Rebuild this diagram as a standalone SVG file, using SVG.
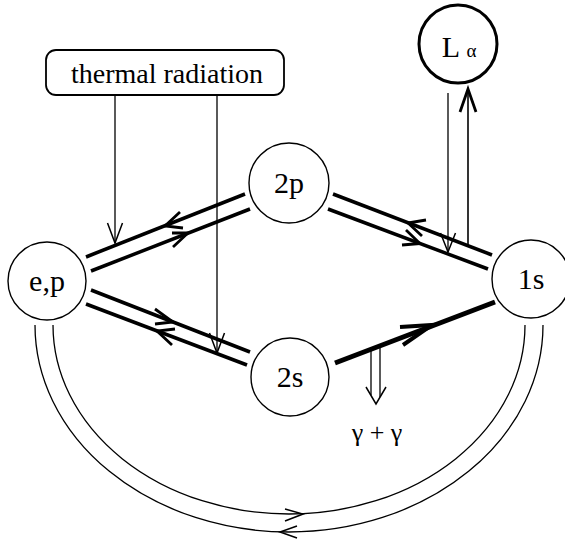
<svg xmlns="http://www.w3.org/2000/svg" width="565" height="541" viewBox="0 0 565 541">
<style>
.node{fill:#fff;stroke:#000;stroke-width:1.4}
.lbl{font-family:"Liberation Serif","Times New Roman",serif;font-size:30px;fill:#000;text-anchor:middle}
.thick{stroke:#000;stroke-width:3.5;fill:none;stroke-linecap:butt}
.thin{stroke:#000;stroke-width:1.3;fill:none}
.ah{stroke:#000;stroke-width:2.8;fill:none;stroke-linejoin:miter}
.ahthin{stroke:#000;stroke-width:1.5;fill:none}
</style>
<rect width="565" height="541" fill="#fff"/>
<g id="connectors">
  <!-- e,p <-> 2p -->
  <line class="thick" x1="86" y1="257" x2="245" y2="194"/>
  <polyline class="ah" points="180,212 165,226 183,228"/>
  <line class="thick" x1="91" y1="271" x2="250" y2="209"/>
  <polyline class="ah" points="172,233 188,233 173,247"/>
  <!-- e,p <-> 2s -->
  <line class="thick" x1="91" y1="290" x2="250" y2="352"/>
  <polyline class="ah" points="155,309 173,322 155,324"/>
  <line class="thick" x1="86" y1="304" x2="247" y2="365"/>
  <polyline class="ah" points="175,329 157,331 172,345"/>
  <!-- 2p <-> 1s -->
  <line class="thick" x1="333" y1="194" x2="492" y2="255"/>
  <polyline class="ah" points="426,220 408,223 422,236"/>
  <line class="thick" x1="328" y1="209" x2="488" y2="269"/>
  <polyline class="ah" points="406,230 420,243.5 402,245"/>
  <!-- 2s -> 1s -->
  <line x1="335" y1="363" x2="495" y2="302" stroke="#000" stroke-width="5"/>
  <polyline points="400,327 432,325 403,345" stroke="#000" stroke-width="4" fill="none"/>
  <!-- thermal radiation lines -->
  <line class="thin" x1="115" y1="95" x2="115" y2="243"/>
  <polyline class="ahthin" points="107.5,223 115,243 122.5,223"/>
  <line class="thin" x1="217" y1="95" x2="217" y2="353"/>
  <polyline class="ahthin" points="209.5,333 217,353 224.5,333"/>
  <!-- L alpha lines -->
  <line class="thin" x1="448" y1="93" x2="448" y2="252"/>
  <polyline class="ahthin" points="440.5,233 448,252 455.5,233"/>
  <line x1="468" y1="90" x2="468" y2="246" stroke="#000" stroke-width="1.6"/>
  <polyline points="460,112 468,89 476,112" stroke="#000" stroke-width="2.8" fill="none"/>
  <!-- gamma + gamma double arrow -->
  <line class="thin" x1="371" y1="349" x2="371" y2="395"/>
  <line class="thin" x1="380" y1="346" x2="380" y2="397"/>
  <polyline class="ahthin" points="366,387 376,404 386,387"/>
  <!-- bottom arcs -->
  <path class="thin" d="M 53 325 A 236 189 0 0 0 525 325"/>
  <polyline class="ahthin" points="285,509 303,514 285,521"/>
  <path class="thin" d="M 35 325 A 254 207 0 0 0 543 325"/>
  <polyline class="ahthin" points="297,526 280,532 297,538"/>
</g>
<g id="thermal">
  <rect x="46" y="50" width="238" height="45" rx="10" ry="10" fill="#fff" stroke="#000" stroke-width="1.8"/>
  <text x="167" y="83" font-family="Liberation Serif, Times New Roman, serif" font-size="28" text-anchor="middle">thermal radiation</text>
</g>
<g id="Lalpha">
  <circle cx="458" cy="44" r="39" fill="#fff" stroke="#000" stroke-width="3"/>
  <text x="459" y="57" class="lbl">L <tspan font-size="19">α</tspan></text>
</g>
<g id="n2p">
  <circle class="node" cx="289" cy="183" r="40"/>
  <text class="lbl" x="289" y="193">2p</text>
</g>
<g id="nep">
  <circle class="node" cx="47" cy="281" r="39"/>
  <text class="lbl" x="47" y="291">e,p</text>
</g>
<g id="n1s">
  <circle class="node" cx="531" cy="279" r="39"/>
  <text class="lbl" x="531" y="289">1s</text>
</g>
<g id="n2s">
  <circle class="node" cx="290" cy="377" r="39"/>
  <text class="lbl" x="290" y="387">2s</text>
</g>
<g id="gamma">
  <text x="377" y="441" font-family="Liberation Serif, Times New Roman, serif" font-size="26" text-anchor="middle">γ + γ</text>
</g>
</svg>
